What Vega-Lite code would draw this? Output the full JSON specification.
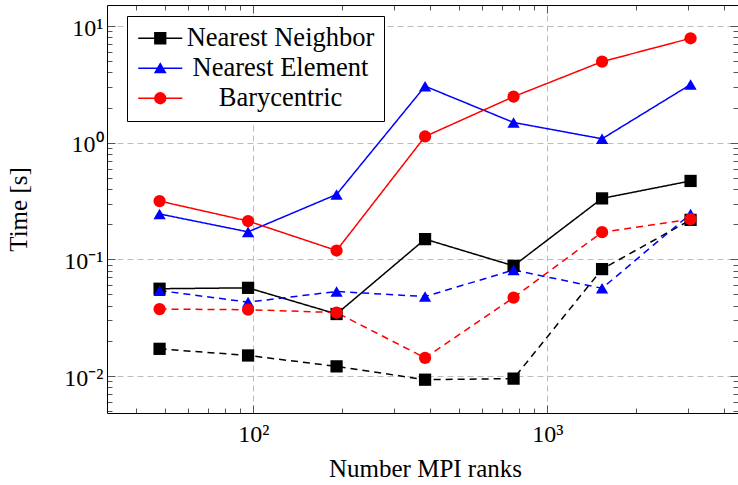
{
  "$schema": "https://vega.github.io/schema/vega-lite/v6.json",
  "width": 631,
  "height": 408,
  "autosize": {"type": "none"},
  "padding": {"left": 107, "top": 5, "right": 0, "bottom": 72},
  "background": "white",
  "config": {
    "view": {"stroke": null},
    "font": "Liberation Serif",
    "axis": {
      "domainColor": "black",
      "domainWidth": 1,
      "tickColor": "#555555",
      "tickWidth": 1,
      "labelFont": "Liberation Serif",
      "labelFontSize": 24,
      "labelColor": "black",
      "labelOverlap": false,
      "labelFlush": false,
      "titleFont": "Liberation Serif",
      "titleFontSize": 25,
      "titleFontWeight": "normal",
      "titleColor": "black"
    },
    "legend": {
      "symbolSize": 144,
      "symbolStrokeWidth": 1.5,
      "symbolOffset": 11,
      "symbolOpacity": 1,
      "labelFont": "Liberation Serif",
      "labelFontSize": 26.5,
      "labelColor": "black",
      "labelAlign": "center",
      "labelOffset": 107,
      "labelLimit": 300,
      "padding": 9,
      "rowPadding": 3,
      "strokeColor": "black",
      "fillColor": "white",
      "cornerRadius": 0
    }
  },
  "data": {
    "values": [
      {"ranks": 48, "time": 0.056, "method": "Nearest Neighbor", "group": "A"},
      {"ranks": 96, "time": 0.057, "method": "Nearest Neighbor", "group": "A"},
      {"ranks": 192, "time": 0.034, "method": "Nearest Neighbor", "group": "A"},
      {"ranks": 384, "time": 0.149, "method": "Nearest Neighbor", "group": "A"},
      {"ranks": 768, "time": 0.088, "method": "Nearest Neighbor", "group": "A"},
      {"ranks": 1536, "time": 0.333, "method": "Nearest Neighbor", "group": "A"},
      {"ranks": 3072, "time": 0.47, "method": "Nearest Neighbor", "group": "A"},
      {"ranks": 48, "time": 0.245, "method": "Nearest Element", "group": "A"},
      {"ranks": 96, "time": 0.172, "method": "Nearest Element", "group": "A"},
      {"ranks": 192, "time": 0.36, "method": "Nearest Element", "group": "A"},
      {"ranks": 384, "time": 3.05, "method": "Nearest Element", "group": "A"},
      {"ranks": 768, "time": 1.49, "method": "Nearest Element", "group": "A"},
      {"ranks": 1536, "time": 1.08, "method": "Nearest Element", "group": "A"},
      {"ranks": 3072, "time": 3.15, "method": "Nearest Element", "group": "A"},
      {"ranks": 48, "time": 0.316, "method": "Barycentric", "group": "A"},
      {"ranks": 96, "time": 0.213, "method": "Barycentric", "group": "A"},
      {"ranks": 192, "time": 0.119, "method": "Barycentric", "group": "A"},
      {"ranks": 384, "time": 1.13, "method": "Barycentric", "group": "A"},
      {"ranks": 768, "time": 2.48, "method": "Barycentric", "group": "A"},
      {"ranks": 1536, "time": 4.95, "method": "Barycentric", "group": "A"},
      {"ranks": 3072, "time": 7.85, "method": "Barycentric", "group": "A"},
      {"ranks": 48, "time": 0.0171, "method": "Nearest Neighbor", "group": "B"},
      {"ranks": 96, "time": 0.015, "method": "Nearest Neighbor", "group": "B"},
      {"ranks": 192, "time": 0.0121, "method": "Nearest Neighbor", "group": "B"},
      {"ranks": 384, "time": 0.0093, "method": "Nearest Neighbor", "group": "B"},
      {"ranks": 768, "time": 0.0095, "method": "Nearest Neighbor", "group": "B"},
      {"ranks": 1536, "time": 0.0825, "method": "Nearest Neighbor", "group": "B"},
      {"ranks": 3072, "time": 0.218, "method": "Nearest Neighbor", "group": "B"},
      {"ranks": 48, "time": 0.054, "method": "Nearest Element", "group": "B"},
      {"ranks": 96, "time": 0.043, "method": "Nearest Element", "group": "B"},
      {"ranks": 192, "time": 0.053, "method": "Nearest Element", "group": "B"},
      {"ranks": 384, "time": 0.048, "method": "Nearest Element", "group": "B"},
      {"ranks": 768, "time": 0.081, "method": "Nearest Element", "group": "B"},
      {"ranks": 1536, "time": 0.0565, "method": "Nearest Element", "group": "B"},
      {"ranks": 3072, "time": 0.245, "method": "Nearest Element", "group": "B"},
      {"ranks": 48, "time": 0.0375, "method": "Barycentric", "group": "B"},
      {"ranks": 96, "time": 0.037, "method": "Barycentric", "group": "B"},
      {"ranks": 192, "time": 0.035, "method": "Barycentric", "group": "B"},
      {"ranks": 384, "time": 0.0143, "method": "Barycentric", "group": "B"},
      {"ranks": 768, "time": 0.047, "method": "Barycentric", "group": "B"},
      {"ranks": 1536, "time": 0.171, "method": "Barycentric", "group": "B"},
      {"ranks": 3072, "time": 0.221, "method": "Barycentric", "group": "B"}
    ]
  },
  "layer": [
    {
      "mark": {"type": "line", "strokeWidth": 1.5, "clip": true},
      "encoding": {
        "x": {
          "field": "ranks",
          "type": "quantitative",
          "scale": {"type": "log", "domain": [31.8, 4454], "nice": false},
          "axis": {
            "orient": "bottom",
            "values": [40, 50, 60, 70, 80, 90, 100, 200, 300, 400, 500, 600, 700, 800, 900, 1000, 2000, 3000, 4000],
            "labelExpr": "datum.value == 100 ? '10²' : datum.value == 1000 ? '10³' : ''",
            "tickSize": {"condition": {"test": "datum.value == 100 || datum.value == 1000", "value": -8}, "value": -5},
            "grid": true,
            "gridColor": "#bdbdbd",
            "gridDash": [6, 4],
            "gridOpacity": {"condition": {"test": "datum.value == 100 || datum.value == 1000", "value": 1}, "value": 0},
            "labelPadding": 17,
            "title": "Number MPI ranks",
            "titleX": 318,
            "titleY": 55,
            "titleBaseline": "middle"
          }
        },
        "y": {
          "field": "time",
          "type": "quantitative",
          "scale": {"type": "log", "domain": [0.00482, 15.14], "nice": false},
          "axis": {
            "orient": "left",
            "values": [0.005, 0.006, 0.007, 0.008, 0.009, 0.01, 0.02, 0.03, 0.04, 0.05, 0.06, 0.07, 0.08, 0.09, 0.1, 0.2, 0.3, 0.4, 0.5, 0.6, 0.7, 0.8, 0.9, 1, 2, 3, 4, 5, 6, 7, 8, 9, 10],
            "labelExpr": "datum.value == 10 ? '10¹' : datum.value == 1 ? '10⁰' : datum.value == 0.1 ? '10⁻¹' : datum.value == 0.01 ? '10⁻²' : ''",
            "tickSize": {"condition": {"test": "datum.value == 10 || datum.value == 1 || datum.value == 0.1 || datum.value == 0.01", "value": -8}, "value": -5},
            "grid": true,
            "gridColor": "#bdbdbd",
            "gridDash": [6, 4],
            "gridOpacity": {"condition": {"test": "datum.value == 10 || datum.value == 1 || datum.value == 0.1 || datum.value == 0.01", "value": 1}, "value": 0},
            "labelPadding": 12,
            "labelOffset": 2,
            "title": "Time [s]",
            "titleX": -89,
            "titleY": 204,
            "titleAngle": -90,
            "titleBaseline": "middle"
          }
        },
        "color": {
          "field": "method",
          "type": "nominal",
          "scale": {"domain": ["Nearest Neighbor", "Nearest Element", "Barycentric"], "range": ["#000000", "#0000ff", "#ff0000"]},
          "legend": null
        },
        "strokeDash": {
          "field": "group",
          "type": "nominal",
          "scale": {"domain": ["A", "B"], "range": [[1, 0], [7, 5]]},
          "legend": null
        }
      }
    },
    {
      "mark": {"type": "point", "filled": true, "size": 150, "opacity": 1, "clip": true},
      "encoding": {
        "x": {
          "field": "ranks",
          "type": "quantitative",
          "scale": {"type": "log", "domain": [31.8, 4454], "nice": false},
          "axis": {
            "orient": "top",
            "values": [40, 50, 60, 70, 80, 90, 100, 200, 300, 400, 500, 600, 700, 800, 900, 1000, 2000, 3000, 4000],
            "labels": false,
            "grid": false,
            "title": null,
            "tickSize": {"condition": {"test": "datum.value == 100 || datum.value == 1000", "value": -8}, "value": -5}
          }
        },
        "y": {
          "field": "time",
          "type": "quantitative",
          "scale": {"type": "log", "domain": [0.00482, 15.14], "nice": false},
          "axis": {
            "orient": "right",
            "values": [0.005, 0.006, 0.007, 0.008, 0.009, 0.01, 0.02, 0.03, 0.04, 0.05, 0.06, 0.07, 0.08, 0.09, 0.1, 0.2, 0.3, 0.4, 0.5, 0.6, 0.7, 0.8, 0.9, 1, 2, 3, 4, 5, 6, 7, 8, 9, 10],
            "labels": false,
            "grid": false,
            "domain": false,
            "title": null,
            "tickSize": {"condition": {"test": "datum.value == 10 || datum.value == 1 || datum.value == 0.1 || datum.value == 0.01", "value": -8}, "value": -5}
          }
        },
        "color": {
          "field": "method",
          "type": "nominal",
          "scale": {"domain": ["Nearest Neighbor", "Nearest Element", "Barycentric"], "range": ["#000000", "#0000ff", "#ff0000"]},
          "legend": null
        },
        "shape": {
          "field": "method",
          "type": "nominal",
          "scale": {"domain": ["Nearest Neighbor", "Nearest Element", "Barycentric"], "range": ["square", "triangle-up", "circle"]},
          "legend": null
        }
      }
    },
    {
      "data": {"values": []},
      "mark": {"type": "point", "filled": false, "strokeWidth": 1.5},
      "encoding": {
        "color": {
          "field": "method",
          "type": "nominal",
          "scale": {"domain": ["Nearest Neighbor", "Nearest Element", "Barycentric"], "range": ["#000000", "#0000ff", "#ff0000"]},
          "legend": {"title": null, "orient": "none", "legendX": 20, "legendY": 11}
        },
        "shape": {
          "field": "method",
          "type": "nominal",
          "scale": {
            "domain": ["Nearest Neighbor", "Nearest Element", "Barycentric"],
            "range": [
              "M-3.67,0H3.67M-0.9,-0.9H0.9V0.9H-0.9ZM-0.7,-0.7H0.7V0.7H-0.7ZM-0.5,-0.5H0.5V0.5H-0.5ZM-0.3,-0.3H0.3V0.3H-0.3ZM-0.1,-0.1H0.1V0.1H-0.1Z",
              "M-3.67,0H3.67M0,-0.75L0.85,0.7L-0.85,0.7ZM0,-0.461L0.595,0.554L-0.595,0.554ZM0,-0.172L0.34,0.408L-0.34,0.408ZM0,0.097L0.102,0.271L-0.102,0.271Z",
              "M-3.67,0H3.67M-0.9,0A0.9,0.9,0,1,0,0.9,0A0.9,0.9,0,1,0,-0.9,0ZM-0.7,0A0.7,0.7,0,1,0,0.7,0A0.7,0.7,0,1,0,-0.7,0ZM-0.5,0A0.5,0.5,0,1,0,0.5,0A0.5,0.5,0,1,0,-0.5,0ZM-0.3,0A0.3,0.3,0,1,0,0.3,0A0.3,0.3,0,1,0,-0.3,0ZM-0.12,0A0.12,0.12,0,1,0,0.12,0A0.12,0.12,0,1,0,-0.12,0Z"
            ]
          },
          "legend": {"title": null, "orient": "none", "legendX": 20, "legendY": 11}
        }
      }
    }
  ],
  "resolve": {
    "scale": {"color": "independent", "shape": "independent", "strokeDash": "independent"},
    "axis": {"x": "independent", "y": "independent"}
  }
}
